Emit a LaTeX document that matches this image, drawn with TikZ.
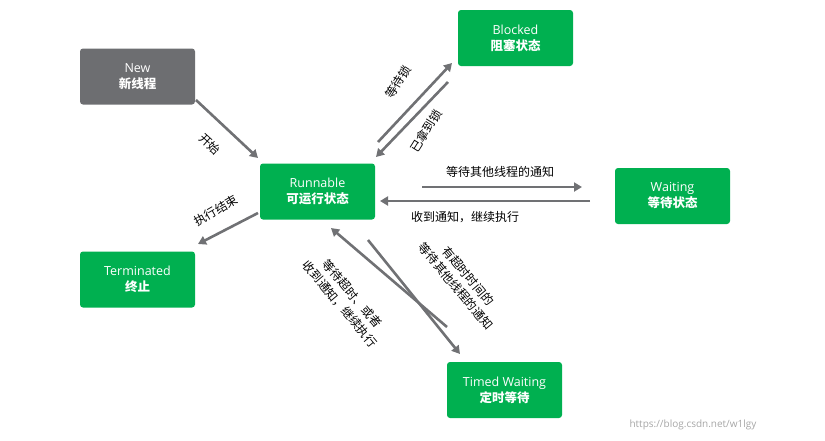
\documentclass[tikz,border=0pt]{standalone}
\usepackage{fontspec}
\setmainfont{Open Sans}
\newfontfamily\cjk{Noto Sans CJK SC}
\usetikzlibrary{arrows.meta}
\definecolor{gbox}{HTML}{00B050}
\definecolor{graybox}{HTML}{6D6E71}
\definecolor{arr}{HTML}{707174}
\begin{document}
\begin{tikzpicture}[x=1pt,y=-1pt,
 state/.style={rounded corners=3pt,minimum width=115pt,minimum height=56pt,text=white,align=center,font=\fontsize{12.5}{16}\selectfont,fill=gbox},
 conn/.style={draw=arr,line width=2.6pt,-{Triangle[length=8pt,width=9pt]}},
 lab/.style={font=\cjk\fontsize{12}{16}\selectfont,text=black,align=center}]
\useasboundingbox (0,0) rectangle (825,440);
\node[state,fill=graybox] (new) at (137.5,76.5) {New\\{\cjk\bfseries 新线程}};
\node[state] (run) at (317.5,191.5) {Runnable\\{\cjk\bfseries 可运行状态}};
\node[state] (blk) at (515.5,38) {Blocked\\{\cjk\bfseries 阻塞状态}};
\node[state] (wait) at (672.5,196) {Waiting\\{\cjk\bfseries 等待状态}};
\node[state] (term) at (137.5,279.5) {Terminated\\{\cjk\bfseries 终止}};
\node[state] (timed) at (504.5,390) {Timed Waiting\\{\cjk\bfseries 定时等待}};
\coordinate (a1) at (196,100); \coordinate (a2) at (258,158);
\draw[conn] (a1) -- (a2);
\node[lab,rotate=-42] at (210,144) {开始};
\coordinate (b1) at (258,213); \coordinate (b2) at (198,244);
\draw[conn] (b1) -- (b2);
\node[lab,rotate=30] at (216,211) {执行结束};
\coordinate (c1) at (378,142); \coordinate (c2) at (452,63);
\draw[conn] (c1) -- (c2);
\node[lab,rotate=58] at (398,82) {等待锁};
\coordinate (d1) at (448,82); \coordinate (d2) at (376,157);
\draw[conn] (d1) -- (d2);
\node[lab,rotate=58] at (426,131) {已拿到锁};
\coordinate (e1) at (422,187); \coordinate (e2) at (582,187);
\draw[conn] (e1) -- (e2);
\node[lab] at (500,172) {等待其他线程的通知};
\coordinate (f1) at (590,201); \coordinate (f2) at (380,201);
\draw[conn] (f1) -- (f2);
\node[lab] at (465,217) {收到通知，继续执行};
\coordinate (g1) at (368,240); \coordinate (g2) at (460,354);
\draw[conn] (g1) -- (g2);
\node[lab,rotate=-50] at (462,281) {有超时时间的\\等待其他线程的通知};
\coordinate (h1) at (447,327); \coordinate (h2) at (331,228);
\draw[conn] (h1) -- (h2);
\node[lab,rotate=-50] at (346,299) {等待超时、或者\\收到通知，继续执行};
\node[font=\fontsize{10}{12}\selectfont,text=gray!70] (wm) at (693,425) {https://blog.csdn.net/w1lgy};
\end{tikzpicture}
\end{document}
